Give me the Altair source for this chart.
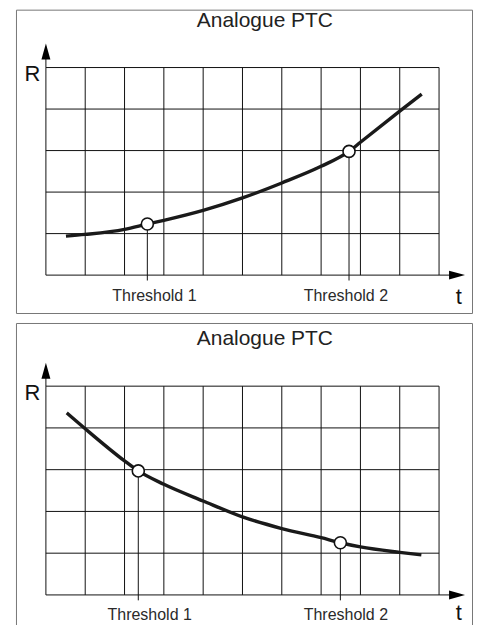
import altair as alt
import pandas as pd

# ---- values -------------------------------------------------------------
TITLE = "Analogue PTC"
Y_NAME = "R"
X_NAME = "t"
THRESHOLD_LABELS = ["Threshold 1", "Threshold 2"]
GRID_COLS = list(range(0, 11))   # 10 columns
GRID_ROWS = list(range(0, 6))    # 5 rows

# upper panel: rising curve (grid units)
TOP_T = [0.51, 1, 2, 2.58, 3, 4, 5, 6, 7, 7.71, 8, 9, 9.56]
TOP_R = [0.94, 0.98, 1.10, 1.23, 1.32, 1.56, 1.86, 2.22, 2.62, 2.98, 3.20, 3.95, 4.36]
TOP_THR_T = [2.58, 7.71]
TOP_THR_R = [1.23, 2.98]

# lower panel: falling curve (grid units)
BOT_T = [0.53, 1, 2, 2.35, 3, 4, 5, 6, 7, 7.49, 8, 9, 9.55]
BOT_R = [4.36, 3.98, 3.21, 2.97, 2.65, 2.25, 1.87, 1.59, 1.37, 1.25, 1.15, 1.02, 0.96]
BOT_THR_T = [2.35, 7.49]
BOT_THR_R = [2.97, 1.25]

FONT = "Liberation Sans"
INK = "#111111"
UP = "M0,0L0.28,1L-0.28,1Z"
RIGHT = "M0,0L-1,-0.28L-1,0.28Z"
PANEL_W = 457
X_DOMAIN = [-0.761, 10.838]


def panel(curve_t, curve_r, thr_t, thr_r, y_dom, height,
          label_t, label_r, title_r, rname_r, tname_r, ytip, xtip):
    XS = alt.Scale(domain=X_DOMAIN, nice=False, zero=False)
    YS = alt.Scale(domain=y_dom, nice=False, zero=False)

    def xy(xf, yf):
        return dict(x=alt.X(xf, type="quantitative", scale=XS, axis=None),
                    y=alt.Y(yf, type="quantitative", scale=YS, axis=None))

    vgrid = alt.Chart(pd.DataFrame({"t": GRID_COLS, "r0": 0, "r1": GRID_ROWS[-1]})).mark_rule(
        color=INK, strokeWidth=1).encode(**xy("t", "r0"), y2="r1")
    hgrid = alt.Chart(pd.DataFrame({"r": GRID_ROWS, "t0": 0, "t1": GRID_COLS[-1]})).mark_rule(
        color=INK, strokeWidth=1).encode(**xy("t0", "r"), x2="t1")

    yext = alt.Chart(pd.DataFrame({"t": [0], "r0": [GRID_ROWS[-1]], "r1": [ytip - 0.2]})).mark_rule(
        color=INK, strokeWidth=1).encode(**xy("t", "r0"), y2="r1")
    xext = alt.Chart(pd.DataFrame({"r": [0], "t0": [GRID_COLS[-1]], "t1": [xtip - 0.2]})).mark_rule(
        color=INK, strokeWidth=1).encode(**xy("t0", "r"), x2="t1")

    uparrow = alt.Chart(pd.DataFrame({"t": [0], "r": [ytip]})).mark_point(
        shape=UP, filled=True, size=1024, color="black", opacity=1, strokeWidth=0).encode(**xy("t", "r"))
    rarrow = alt.Chart(pd.DataFrame({"t": [xtip], "r": [0]})).mark_point(
        shape=RIGHT, filled=True, size=1024, color="black", opacity=1, strokeWidth=0).encode(**xy("t", "r"))

    drops = alt.Chart(pd.DataFrame({"t": thr_t, "r0": thr_r, "r1": -0.13})).mark_rule(
        color=INK, strokeWidth=1).encode(**xy("t", "r0"), y2="r1")

    curve = alt.Chart(pd.DataFrame({"t": curve_t, "r": curve_r})).mark_line(
        color="#1a1a1a", strokeWidth=3.4, interpolate="monotone").encode(**xy("t", "r"))

    circles = alt.Chart(pd.DataFrame({"t": thr_t, "r": thr_r})).mark_point(
        shape="circle", filled=True, fill="white", stroke="#111", strokeWidth=1.6,
        size=145, opacity=1).encode(**xy("t", "r"))

    labels = alt.Chart(pd.DataFrame({"lab": THRESHOLD_LABELS, "t": label_t, "r": label_r})).mark_text(
        font=FONT, fontSize=16, color="#2a2a2a", align="center", baseline="alphabetic").encode(
        **xy("t", "r"), text="lab:N")

    title = alt.Chart(pd.DataFrame({"lab": [TITLE], "t": [5.57], "r": [title_r]})).mark_text(
        font=FONT, fontSize=21, color="#222", align="center", baseline="alphabetic").encode(
        **xy("t", "r"), text="lab:N")

    rname = alt.Chart(pd.DataFrame({"lab": [Y_NAME], "t": [-0.34], "r": [rname_r]})).mark_text(
        font=FONT, fontSize=22, color="#111", align="center", baseline="alphabetic").encode(
        **xy("t", "r"), text="lab:N")

    tname = alt.Chart(pd.DataFrame({"lab": [X_NAME], "t": [10.5], "r": [tname_r]})).mark_text(
        font=FONT, fontSize=22, color="#111", align="center", baseline="alphabetic").encode(
        **xy("t", "r"), text="lab:N")

    return alt.layer(vgrid, hgrid, yext, xext, uparrow, rarrow, drops, curve, circles,
                     labels, title, rname, tname).properties(width=PANEL_W, height=height)


top = panel(TOP_T, TOP_R, TOP_THR_T, TOP_THR_R, [-0.913, 6.394], 304,
            [2.76, 7.63], [-0.625, -0.625], 5.986, 4.68, -0.69, 5.58, 10.66)
bottom = panel(BOT_T, BOT_R, BOT_THR_T, BOT_THR_R, [-0.848, 6.513], 308,
               [2.64, 7.63], [-0.593, -0.593], 5.99, 4.68, -0.60, 5.56, 10.66)

chart = alt.vconcat(top, bottom, spacing=8).properties(
    padding={"left": 7, "top": 0, "right": 0, "bottom": 0},
    background="white",
).configure_view(stroke="#777", strokeWidth=1)

chart.save("out.html", embed_options={"renderer": "svg", "actions": False})
